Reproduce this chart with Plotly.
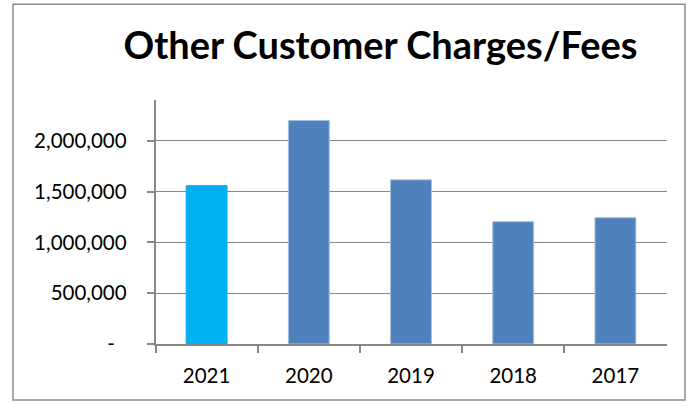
import plotly.graph_objects as go

years = ["2021", "2020", "2019", "2018", "2017"]
values = [1559000, 2201000, 1616000, 1204000, 1243000]
bar_colors = ["#00B0F0", "#4F81BD", "#4F81BD", "#4F81BD", "#4F81BD"]
edge_colors = ["#00B0F0", "#A4BEDD", "#A4BEDD", "#A4BEDD", "#A4BEDD"]
tick_vals = [0, 500000, 1000000, 1500000, 2000000]
tick_text = ["-<span style='color:rgba(0,0,0,0)'>0</span>", "500,000", "1,000,000", "1,500,000", "2,000,000"]
title_text = "Other Customer Charges/Fees"

W, H = 696, 414
x0, x1 = 155.5, 666.5
y_top, y_bot = 103, 353.3

fig = go.Figure()
fig.add_trace(go.Bar(
    x=years, y=values, width=0.4,
    marker=dict(color=bar_colors, line=dict(color=edge_colors, width=1)),
    hoverinfo="skip",
))

FONT = "Lato, 'Open Sans', sans-serif"
axis_gray = "#878787"

fig.update_layout(
    width=W, height=H,
    margin=dict(l=0, r=0, t=0, b=0),
    paper_bgcolor="white", plot_bgcolor="white",
    showlegend=False,
    font=dict(family=FONT, size=20, color="black"),
    xaxis=dict(
        domain=[x0 / W, x1 / W],
        type="category",
        showline=True, linecolor=axis_gray, linewidth=1.5,
        ticks="outside", tickson="boundaries", ticklen=7, tickcolor=axis_gray, tickwidth=1.5,
        showgrid=False, zeroline=False,
        tickfont=dict(family=FONT, size=20.5, color="black"),
        ticklabelstandoff=13,
    ),
    yaxis=dict(
        domain=[(H - y_bot) / H, (H - y_top) / H],
        range=[0, 2400000],
        tickvals=tick_vals, ticktext=tick_text,
        showline=True, linecolor=axis_gray, linewidth=1.5,
        ticks="outside", ticklen=7, tickcolor=axis_gray, tickwidth=1.5,
        showgrid=True, gridcolor=axis_gray, gridwidth=1.3,
        zeroline=False,
        tickfont=dict(family=FONT, size=20.5, color="black"),
        ticklabelstandoff=16,
    ),
    title=dict(
        text="<b>" + title_text + "</b>",
        x=380.5 / W, xref="container", xanchor="center",
        y=1 - 46 / H, yref="container", yanchor="middle",
        font=dict(family=FONT, size=38, color="black"),
    ),
    shapes=[dict(
        type="rect", xref="paper", yref="paper",
        x0=13 / W, x1=685 / W, y0=(H - 411) / H, y1=(H - 4.3) / H,
        line=dict(color="#8C8C8C", width=1.5), fillcolor="rgba(0,0,0,0)",
        layer="below",
    )],
)

fig.write_html("out.html")
